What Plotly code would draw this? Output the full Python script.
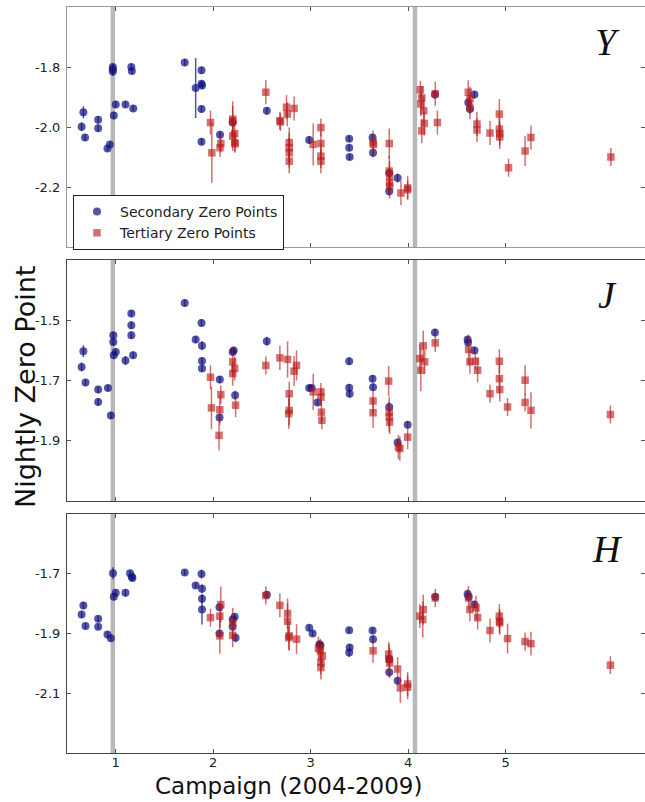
import plotly.graph_objects as go
from plotly.subplots import make_subplots

# ---------------- data ----------------
# Y band
y_sec_x = [0.668, 0.65, 0.685, 0.82, 0.82, 0.915, 0.94, 0.97, 0.97, 0.97, 0.98, 1.0, 1.10, 1.16, 1.165, 1.18,
           1.708, 1.82, 1.88, 1.88, 1.885, 1.88, 1.88, 2.07, 2.20, 2.55, 2.985, 3.395, 3.395, 3.40,
           3.635, 3.64, 3.806, 3.806, 3.892, 4.275, 4.617, 4.634, 4.68]
y_sec_y = [-1.951, -1.999, -2.035, -1.976, -2.004, -2.072, -2.058, -1.80, -1.808, -1.815, -1.962, -1.925, -1.925,
           -1.80, -1.813, -1.938, -1.785, -1.87, -1.811, -1.856, -1.862, -1.94, -2.049, -2.026, -1.985, -1.946,
           -2.043, -2.039, -2.069, -2.10, -2.035, -2.086, -2.153, -2.214, -2.17, -1.892, -1.918, -1.94, -1.892]
y_sec_e = [0.02, 0.015, 0.012, 0.012, 0.012, 0.01, 0.01, 0.01, 0.01, 0.015, 0.012, 0.012, 0.01, 0.01, 0.012, 0.01,
           0.012, 0.10, 0.012, 0.012, 0.012, 0.012, 0.012, 0.012, 0.015, 0.012, 0.012, 0.01, 0.01, 0.01,
           0.012, 0.015, 0.015, 0.015, 0.015, 0.015, 0.015, 0.015, 0.012]
y_ter_x = [1.972, 1.986, 2.07, 2.078, 2.20, 2.20, 2.20, 2.22, 2.22, 2.225, 2.54, 2.684, 2.69, 2.752, 2.76,
           2.78, 2.78, 2.78, 2.78, 2.83, 3.026, 3.105, 3.105, 3.105, 3.105, 3.64, 3.645, 3.806, 3.806, 3.81,
           3.81, 3.81, 3.926, 3.995, 3.995, 4.125, 4.14, 4.13, 4.16, 4.165, 4.14, 4.278, 4.30, 4.617, 4.634,
           4.634, 4.706, 4.706, 4.84, 4.936, 4.936, 4.94, 4.94, 5.03, 5.20, 5.26, 6.08]
y_ter_y = [-1.985, -2.086, -2.069, -2.055, -1.974, -1.98, -2.03, -2.022, -2.052, -2.056, -1.884, -1.979, -1.983,
           -1.934, -1.957, -2.052, -2.069, -2.086, -2.114, -1.938, -2.058, -2.002, -2.055, -2.097, -2.114,
           -2.052, -2.058, -2.055, -2.147, -2.164, -2.186, -2.198, -2.22, -2.203, -2.209, -1.876, -1.903,
           -1.923, -1.946, -1.988, -2.013, -1.889, -1.985, -1.884, -1.906, -1.934, -1.99, -2.01, -2.02,
           -1.957, -2.007, -2.022, -2.033, -2.136, -2.08, -2.035, -2.10]
y_ter_e = [0.04, 0.10, 0.03, 0.03, 0.06, 0.05, 0.05, 0.04, 0.03, 0.03, 0.04, 0.03, 0.03, 0.04, 0.04,
           0.05, 0.05, 0.05, 0.04, 0.04, 0.07, 0.03, 0.04, 0.04, 0.04, 0.04, 0.03, 0.05, 0.05, 0.05,
           0.04, 0.04, 0.04, 0.04, 0.03, 0.03, 0.04, 0.04, 0.05, 0.04, 0.04, 0.04, 0.04, 0.04, 0.04,
           0.04, 0.04, 0.04, 0.04, 0.05, 0.04, 0.04, 0.04, 0.03, 0.05, 0.04, 0.03]

# J band
j_sec_x = [0.668, 0.65, 0.69, 0.82, 0.82, 0.92, 0.95, 0.975, 0.975, 0.98, 1.0, 1.10, 1.16, 1.16, 1.16, 1.178,
           1.708, 1.82, 1.88, 1.885, 1.885, 1.885, 2.068, 2.065, 2.20, 2.21, 2.225, 2.55, 2.985, 3.01, 3.07,
           3.395, 3.395, 3.40, 3.635, 3.64, 3.806, 3.892, 3.995, 4.275, 4.61, 4.615, 4.68]
j_sec_y = [-1.603, -1.655, -1.707, -1.73, -1.771, -1.725, -1.816, -1.55, -1.572, -1.616, -1.605, -1.634, -1.478,
           -1.517, -1.55, -1.616, -1.443, -1.564, -1.509, -1.585, -1.635, -1.66, -1.697, -1.823, -1.605, -1.60,
           -1.749, -1.57, -1.725, -1.725, -1.773, -1.636, -1.724, -1.744, -1.694, -1.722, -1.788, -1.906,
           -1.847, -1.541, -1.564, -1.574, -1.60]
j_sec_e = [0.02, 0.015, 0.012, 0.012, 0.012, 0.01, 0.012, 0.012, 0.012, 0.012, 0.012, 0.015, 0.012, 0.012, 0.012,
           0.012, 0.012, 0.012, 0.012, 0.015, 0.012, 0.012, 0.012, 0.012, 0.012, 0.012, 0.015, 0.015, 0.01,
           0.01, 0.01, 0.012, 0.012, 0.012, 0.012, 0.012, 0.015, 0.012, 0.012, 0.012, 0.012, 0.012, 0.012]
j_ter_x = [1.972, 1.982, 2.068, 2.078, 2.06, 2.20, 2.20, 2.22, 2.23, 2.54, 2.684, 2.763, 2.83, 2.855, 2.78,
           2.78, 2.775, 3.026, 3.105, 3.105, 3.11, 3.115, 3.64, 3.64, 3.80, 3.806, 3.806, 3.81, 3.90, 3.915,
           3.995, 4.12, 4.13, 4.155, 4.17, 4.278, 4.62, 4.634, 4.69, 4.713, 4.84, 4.936, 4.936, 4.94, 5.02,
           5.20, 5.20, 5.26, 6.075]
j_ter_y = [-1.689, -1.791, -1.797, -1.747, -1.882, -1.638, -1.677, -1.66, -1.782, -1.65, -1.625, -1.63, -1.669,
           -1.65, -1.744, -1.799, -1.81, -1.738, -1.738, -1.755, -1.805, -1.832, -1.768, -1.807, -1.702,
           -1.805, -1.821, -1.838, -1.921, -1.926, -1.888, -1.627, -1.666, -1.585, -1.638, -1.575, -1.597,
           -1.638, -1.636, -1.666, -1.744, -1.636, -1.694, -1.73, -1.788, -1.699, -1.773, -1.799, -1.813]
j_ter_e = [0.04, 0.07, 0.05, 0.03, 0.05, 0.05, 0.04, 0.04, 0.04, 0.03, 0.04, 0.06, 0.05, 0.05, 0.04,
           0.05, 0.05, 0.06, 0.03, 0.03, 0.04, 0.03, 0.04, 0.05, 0.05, 0.05, 0.05, 0.04, 0.04, 0.04,
           0.04, 0.05, 0.07, 0.05, 0.04, 0.03, 0.05, 0.04, 0.03, 0.04, 0.03, 0.04, 0.05, 0.04, 0.03,
           0.05, 0.03, 0.06, 0.03]

# H band
h_sec_x = [0.668, 0.65, 0.69, 0.82, 0.82, 0.915, 0.95, 0.972, 0.98, 1.0, 1.10, 1.147, 1.165, 1.171, 1.708,
           1.82, 1.88, 1.885, 1.885, 1.885, 2.064, 2.064, 2.20, 2.20, 2.22, 2.23, 2.55, 2.985, 3.02, 3.09,
           3.10, 3.395, 3.40, 3.395, 3.635, 3.64, 3.806, 3.806, 3.892, 4.278, 4.61, 4.62, 4.68]
h_sec_y = [-1.806, -1.836, -1.875, -1.851, -1.877, -1.903, -1.916, -1.698, -1.777, -1.764, -1.764, -1.698,
           -1.71, -1.714, -1.696, -1.739, -1.701, -1.75, -1.784, -1.82, -1.812, -1.90, -1.853, -1.877,
           -1.844, -1.914, -1.77, -1.881, -1.90, -1.936, -1.94, -1.889, -1.947, -1.964, -1.89, -1.919,
           -1.986, -2.03, -2.058, -1.777, -1.768, -1.777, -1.803]
h_sec_e = [0.012, 0.012, 0.01, 0.01, 0.01, 0.01, 0.01, 0.02, 0.012, 0.012, 0.012, 0.01, 0.01, 0.01, 0.01,
           0.01, 0.015, 0.015, 0.015, 0.05, 0.012, 0.012, 0.012, 0.012, 0.012, 0.015, 0.012, 0.01, 0.01,
           0.012, 0.012, 0.01, 0.012, 0.015, 0.01, 0.012, 0.015, 0.015, 0.012, 0.012, 0.015, 0.012, 0.012]
h_ter_x = [1.972, 2.068, 2.078, 2.068, 2.20, 2.20, 2.54, 2.684, 2.763, 2.763, 2.78, 2.775, 2.855, 3.08, 3.10,
           3.12, 3.105, 3.105, 3.64, 3.80, 3.806, 3.81, 3.892, 3.92, 3.995, 3.995, 4.12, 4.15, 4.155, 4.278,
           4.62, 4.634, 4.696, 4.713, 4.84, 4.936, 4.936, 4.94, 5.02, 5.20, 5.26, 6.075]
h_ter_y = [-1.847, -1.842, -1.803, -1.908, -1.864, -1.906, -1.773, -1.806, -1.833, -1.859, -1.908, -1.914,
           -1.919, -1.95, -1.958, -1.975, -1.997, -2.014, -1.958, -1.969, -1.986, -1.999, -2.019, -2.082,
           -2.069, -2.08, -1.842, -1.853, -1.82, -1.781, -1.781, -1.82, -1.814, -1.847, -1.89, -1.842,
           -1.859, -1.864, -1.917, -1.927, -1.934, -2.006]
h_ter_e = [0.03, 0.04, 0.06, 0.06, 0.05, 0.04, 0.03, 0.04, 0.05, 0.06, 0.05, 0.04, 0.05, 0.04, 0.04,
           0.04, 0.04, 0.04, 0.04, 0.04, 0.05, 0.05, 0.04, 0.05, 0.04, 0.04, 0.04, 0.06, 0.05, 0.03,
           0.04, 0.04, 0.04, 0.04, 0.04, 0.04, 0.04, 0.04, 0.05, 0.03, 0.04, 0.03]

band_names = ["Y", "J", "H"]
band_ticks = [[-1.8, -2.0, -2.2], [-1.5, -1.7, -1.9], [-1.7, -1.9, -2.1]]
band_ranges = [[-2.4, -1.6], [-2.1, -1.3], [-2.3, -1.5]]
campaign_ticks = [1, 2, 3, 4, 5]
campaign_breaks = [0.97, 4.07]

bands = [
    (y_sec_x, y_sec_y, y_sec_e, y_ter_x, y_ter_y, y_ter_e),
    (j_sec_x, j_sec_y, j_sec_e, j_ter_x, j_ter_y, j_ter_e),
    (h_sec_x, h_sec_y, h_sec_e, h_ter_x, h_ter_y, h_ter_e),
]

# ---------------- figure ----------------
W, H = 645, 802
ML, MR, MT, MB = 67, 0, 7, 49
plot_h = H - MT - MB
panels_px = [(7, 247), (260, 501), (514, 753)]

fig = make_subplots(rows=3, cols=1, shared_xaxes=True)

blue = "rgba(20,20,130,0.72)"
red = "rgba(185,25,25,0.62)"

for i, (sx, sy, se, tx, ty, te) in enumerate(bands):
    r = i + 1
    fig.add_trace(go.Scatter(
        x=sx, y=sy, mode="markers", name="Secondary Zero Points",
        showlegend=(i == 0), legendgroup="sec",
        marker=dict(symbol="circle", size=8, color=blue, line=dict(width=0)),
        error_y=dict(type="data", array=se, visible=True, color=blue, thickness=1.5, width=0),
    ), row=r, col=1)
    fig.add_trace(go.Scatter(
        x=tx, y=ty, mode="markers", name="Tertiary Zero Points",
        showlegend=(i == 0), legendgroup="ter",
        marker=dict(symbol="square", size=7.5, color=red, line=dict(width=0)),
        error_y=dict(type="data", array=te, visible=True, color=red, thickness=1.5, width=0),
    ), row=r, col=1)

tickfont = dict(family="DejaVu Sans", size=13, color="#222")
frame_colors = ["#9a9a9a", "#444444", "#444444"]

for i in range(3):
    top, bot = panels_px[i]
    d0 = (H - MB - bot) / plot_h
    d1 = (H - MB - top) / plot_h
    yname = "yaxis" if i == 0 else f"yaxis{i+1}"
    xname = "xaxis" if i == 0 else f"xaxis{i+1}"
    fig.layout[yname].update(
        domain=[d0, d1], range=band_ranges[i], tickvals=band_ticks[i],
        ticktext=[f"{v:.1f}" for v in band_ticks[i]],
        ticks="inside", ticklen=4, tickcolor="#555", mirror="ticks",
        showline=True, linecolor=frame_colors[i], linewidth=1.2,
        showgrid=False, zeroline=False, tickfont=tickfont, ticklabelstandoff=3,
    )
    fig.layout[xname].update(
        range=[0.5, 6.43], tickvals=campaign_ticks,
        ticks="inside", ticklen=4, tickcolor="#555", mirror="ticks",
        showline=True, linecolor=frame_colors[i], linewidth=1.2,
        showgrid=False, zeroline=False, tickfont=tickfont,
        showticklabels=(i == 2), ticklabelstandoff=-3,
    )
    for xb in campaign_breaks:
        fig.add_shape(type="line", x0=xb, x1=xb, y0=0, y1=1,
                      xref=("x" if i == 0 else f"x{i+1}"),
                      yref=("y domain" if i == 0 else f"y{i+1} domain"),
                      line=dict(color="#b8b8b8", width=4.5), layer="below")
    fig.add_annotation(
        text=f"<i>{band_names[i]}</i>", xref="paper", yref="paper",
        x=(607 - ML) / (W - ML - MR), y=(H - MB - (top + 35)) / plot_h,
        xanchor="center", yanchor="middle", showarrow=False,
        font=dict(family="Liberation Serif", size=38, color="#111"),
    )

# axis titles
fig.add_annotation(
    text="Nightly Zero Point", xref="paper", yref="paper",
    x=(25 - ML) / (W - ML - MR), y=(H - MB - 387) / plot_h,
    xanchor="center", yanchor="middle", textangle=-90, showarrow=False,
    font=dict(family="DejaVu Sans", size=27, color="#111"),
)
fig.add_annotation(
    text="Campaign (2004-2009)", xref="paper", yref="paper",
    x=(288 - ML) / (W - ML - MR), y=(H - MB - 786) / plot_h,
    xanchor="center", yanchor="middle", showarrow=False,
    font=dict(family="DejaVu Sans", size=23, color="#111"),
)

fig.update_layout(
    width=W, height=H,
    margin=dict(l=ML, r=MR, t=MT, b=MB),
    plot_bgcolor="white", paper_bgcolor="white",
    legend=dict(
        x=(73 - ML) / (W - ML - MR), y=(H - MB - 195) / plot_h,
        xanchor="left", yanchor="top",
        bgcolor="white", bordercolor="#222", borderwidth=1,
        font=dict(family="DejaVu Sans", size=14, color="#222"),
        tracegroupgap=0, itemwidth=36,
    ),
)

fig.write_html("out.html")
